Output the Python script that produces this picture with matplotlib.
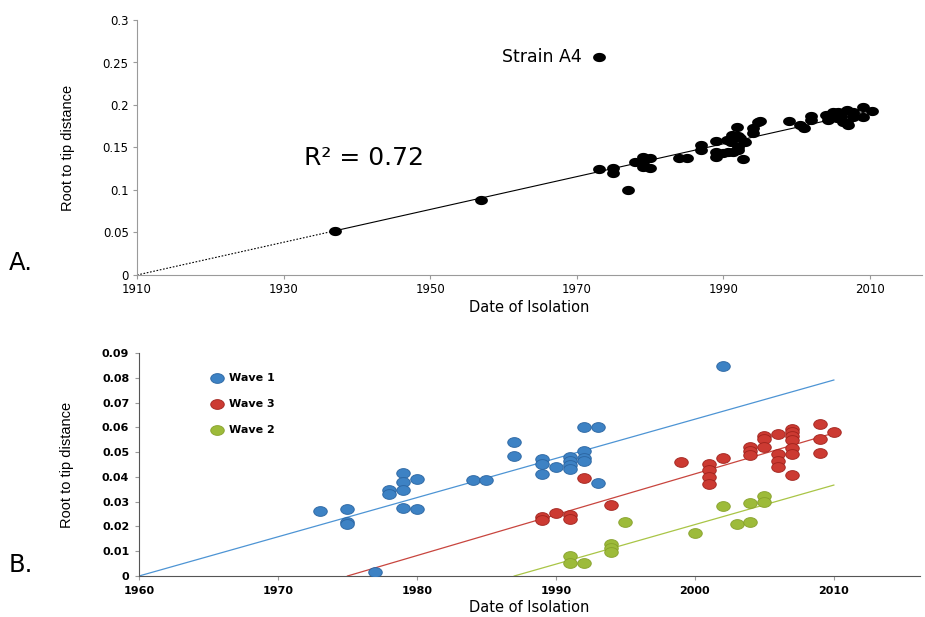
import matplotlib
matplotlib.use("Agg")
import matplotlib.pyplot as plt
import numpy as np
from matplotlib.path import Path

plt.rcParams['font.family'] = ['DejaVu Sans']

# ---------------- Panel A data ----------------
years_a = [1937, 1957, 1973, 1973, 1975, 1975, 1977, 1978, 1979, 1979, 1979, 1980, 1980,
           1984, 1985, 1987, 1987, 1989, 1989, 1989, 1990, 1990.6, 1991.3, 1992,
           1990.5, 1991.2, 1991.9, 1992.3, 1993, 1992.7, 1994, 1994, 1994.7, 1995,
           1992, 1991, 1992, 1999, 2000.5, 2001, 2002, 2002, 2004, 2005, 2005.6, 2006.9, 2007.7,
           2004.3, 2005.5, 2006.3, 2006.9, 2007, 2009, 2009, 2010.3, 2007.7, 2006]
dist_a = [0.052, 0.088, 0.256, 0.125, 0.126, 0.120, 0.100, 0.133, 0.139, 0.133, 0.127, 0.138, 0.126,
          0.138, 0.138, 0.153, 0.147, 0.158, 0.145, 0.139, 0.143, 0.145, 0.145, 0.147,
          0.159, 0.165, 0.174, 0.161, 0.157, 0.136, 0.167, 0.173, 0.180, 0.181,
          0.150, 0.157, 0.163, 0.181, 0.176, 0.173, 0.187, 0.182, 0.188, 0.192, 0.192, 0.194, 0.192,
          0.182, 0.185, 0.180, 0.179, 0.176, 0.198, 0.186, 0.193, 0.186, 0.187]
fit_a_years = [1910, 1937, 2010]
fit_a_vals = [0.0, 0.052, 0.193]
r2_text = "R\u00b2 = 0.72"
outlier_label = "Strain A4"
outlier_year, outlier_val = 1973, 0.256
xticks_a = [1910, 1930, 1950, 1970, 1990, 2010]
yticks_a = [0, 0.05, 0.1, 0.15, 0.2, 0.25, 0.3]
yticklabels_a = ["0", "0.05", "0.1", "0.15", "0.2", "0.25", "0.3"]

# ---------------- Panel B data ----------------
w1_years = [1973, 1975, 1975, 1975, 1978, 1978, 1979, 1979, 1979, 1979, 1980, 1980, 1977,
            1984, 1985, 1987, 1987, 1989, 1989, 1989, 1990, 1991, 1991, 1991, 1991,
            1992, 1993, 1992, 1992, 1992, 1993, 2002]
w1_vals = [0.0262, 0.0269, 0.0219, 0.0210, 0.0347, 0.0330, 0.0414, 0.0378, 0.0346, 0.0274, 0.0393, 0.0269, 0.0017,
           0.0387, 0.0387, 0.0540, 0.0483, 0.0473, 0.0452, 0.0410, 0.0440, 0.0481, 0.0464, 0.0447, 0.0432,
           0.0603, 0.0603, 0.0504, 0.0475, 0.0465, 0.0377, 0.0849]
w3_years = [1992, 1994, 1989, 1989, 1990, 1991, 1991, 1999, 2001, 2001, 2001, 2001, 2002,
            2004, 2004, 2004, 2005, 2005, 2005, 2006, 2006, 2006, 2006,
            2007, 2007, 2007, 2007, 2007, 2007, 2007, 2009, 2009, 2009, 2010]
w3_vals = [0.0394, 0.0288, 0.0239, 0.0226, 0.0253, 0.0245, 0.0232, 0.0460, 0.0452, 0.0428, 0.0401, 0.0370, 0.0475,
           0.0522, 0.0504, 0.0488, 0.0566, 0.0553, 0.0522, 0.0572, 0.0491, 0.0465, 0.0441,
           0.0592, 0.0580, 0.0566, 0.0549, 0.0518, 0.0492, 0.0409, 0.0612, 0.0553, 0.0498, 0.0580]
w2_years = [1995, 1991, 1991, 1992, 1994, 1994, 1994, 2000, 2002, 2003, 2004, 2004, 2005, 2005]
w2_vals = [0.0217, 0.0082, 0.0054, 0.0054, 0.0129, 0.0112, 0.0096, 0.0172, 0.0282, 0.0210, 0.0217,
           0.0293, 0.0323, 0.0300]
fit_w1 = ([1960, 2010], [0.0, 0.0791])
fit_w3 = ([1975, 2010], [0.0, 0.0577])
fit_w2 = ([1987, 2010], [0.0, 0.0367])
xticks_b = [1960, 1970, 1980, 1990, 2000, 2010]
yticks_b = [0, 0.01, 0.02, 0.03, 0.04, 0.05, 0.06, 0.07, 0.08, 0.09]
yticklabels_b = ["0", "0.01", "0.02", "0.03", "0.04", "0.05", "0.06", "0.07", "0.08", "0.09"]

# ellipse marker
t = np.linspace(0, 2 * np.pi, 60)
ell = Path(np.column_stack([np.cos(t), 0.72 * np.sin(t)]), closed=True)

W, H = 925, 617
fig = plt.figure(figsize=(W / 100, H / 100), dpi=100)

def px_axes(l, t_, r, b):
    return fig.add_axes([l / W, 1 - b / H, (r - l) / W, (b - t_) / H])

spine_col = '#9a9a9a'
ylab_font = ['Liberation Sans', 'DejaVu Sans']

# ---------------- Panel A ----------------
axA = px_axes(137, 20, 922, 275)
axA.set_xlim(1910, 2017.1)
axA.set_ylim(0, 0.3)
axA.plot(fit_a_years[:2], fit_a_vals[:2], color='black', lw=0.8, ls=(0, (1.5, 1.5)))
axA.plot(fit_a_years[1:], fit_a_vals[1:], color='black', lw=0.8)
axA.scatter(years_a, dist_a, marker=ell, s=85, color='black', zorder=3, linewidths=0)
axA.text(outlier_year - 2.3, outlier_val, outlier_label, ha='right', va='center', fontsize=12.5)
axA.text(1932.8, 0.138, r2_text, ha='left', va='center', fontsize=18)
axA.set_xticks(xticks_a)
axA.set_yticks(yticks_a)
axA.set_yticklabels(yticklabels_a)
axA.tick_params(labelsize=8.5, length=3, color=spine_col, pad=3)
axA.set_xlabel("Date of Isolation", fontsize=10.5, labelpad=3)
axA.set_ylabel("Root to tip distance", fontsize=10.5, labelpad=20, family=ylab_font)
for s in ['top', 'right']:
    axA.spines[s].set_visible(False)
for s in ['left', 'bottom']:
    axA.spines[s].set_color(spine_col)
fig.text(9 / W, 1 - 263 / H, "A.", fontsize=17.5, va='center', ha='left')

# ---------------- Panel B ----------------
axB = px_axes(139, 353, 920, 576)
axB.set_xlim(1960, 2016.2)
axB.set_ylim(0, 0.09)
c1, c3, c2 = '#3d82c4', '#cc3a32', '#9dbb3a'
e1, e3, e2 = '#2a64a0', '#a0221c', '#86a02a'
axB.plot(*fit_w1, color='#4d94d4', lw=0.9)
axB.plot(*fit_w3, color='#c8453e', lw=0.9)
axB.plot(*fit_w2, color='#a9c546', lw=0.9)
axB.scatter(w1_years, w1_vals, marker=ell, s=95, color=c1, edgecolors=e1, linewidths=0.6, zorder=3, label="Wave 1")
axB.scatter(w3_years, w3_vals, marker=ell, s=95, color=c3, edgecolors=e3, linewidths=0.6, zorder=3, label="Wave 3")
axB.scatter(w2_years, w2_vals, marker=ell, s=95, color=c2, edgecolors=e2, linewidths=0.6, zorder=3, label="Wave 2")
leg = axB.legend(loc='upper left', bbox_to_anchor=((205 - 139) / 781, 1 - (367 - 353) / 223),
                 frameon=False, prop={'weight': 'bold', 'size': 8}, labelspacing=1.45,
                 handletextpad=0.5, borderpad=0, handlelength=1.2, scatterpoints=1)
axB.set_xticks(xticks_b)
axB.set_yticks(yticks_b)
axB.set_yticklabels(yticklabels_b)
axB.tick_params(labelsize=8, length=3, color=spine_col, pad=4)
for lab in axB.get_xticklabels() + axB.get_yticklabels():
    lab.set_fontweight('bold')
axB.set_xlabel("Date of Isolation", fontsize=10.5, labelpad=3)
axB.set_ylabel("Root to tip distance", fontsize=10.5, labelpad=20, family=ylab_font)
for s in ['top', 'right']:
    axB.spines[s].set_visible(False)
for s in ['left', 'bottom']:
    axB.spines[s].set_color('#555555')
fig.text(9 / W, 1 - 565 / H, "B.", fontsize=17.5, va='center', ha='left')

fig.savefig("out.png", dpi=100)
